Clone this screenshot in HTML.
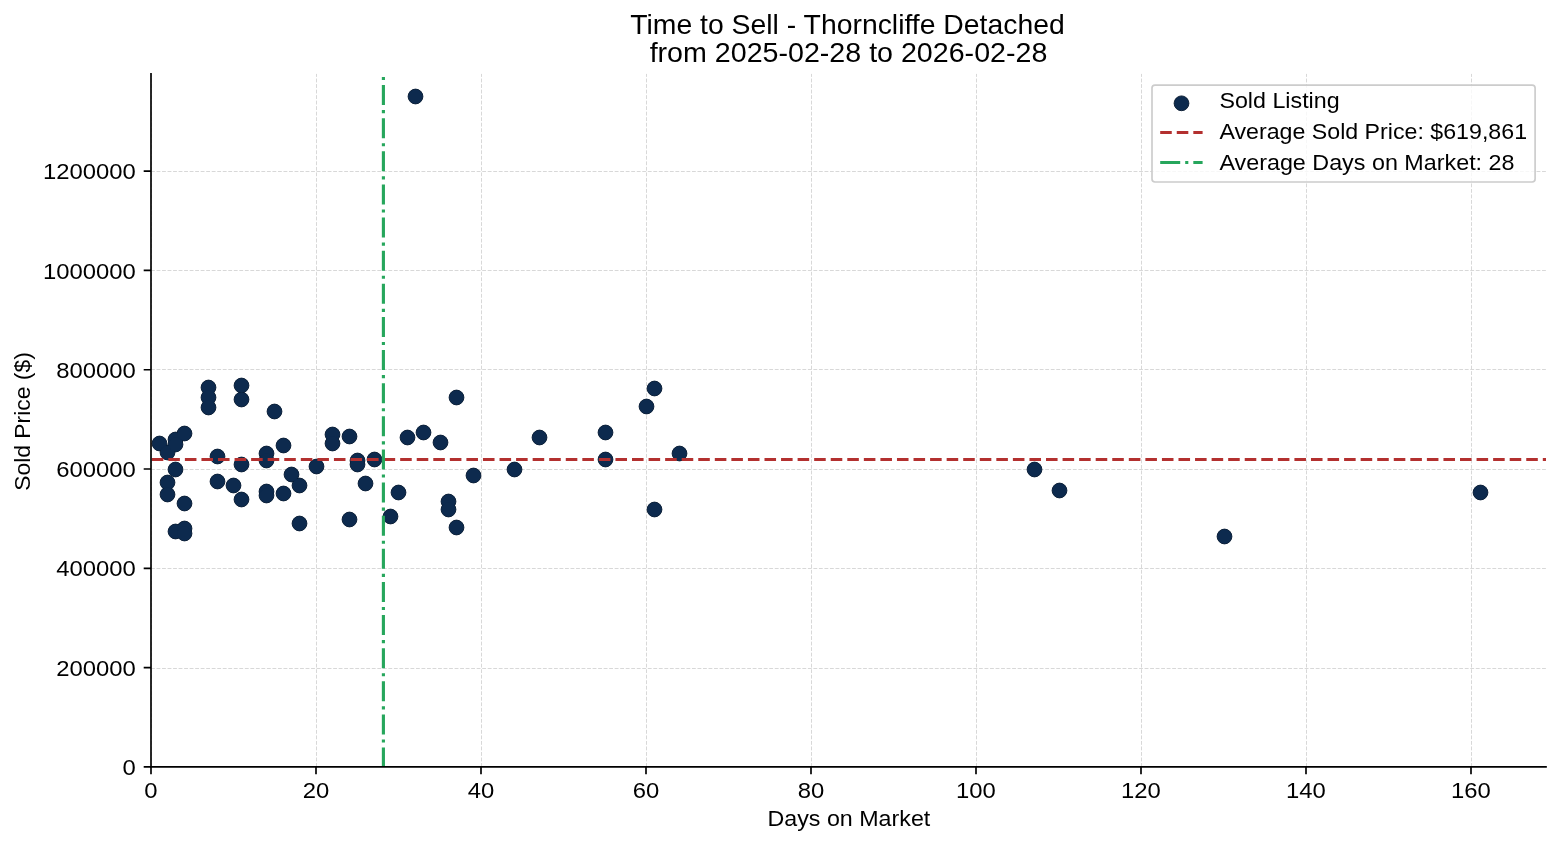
<!DOCTYPE html><html><head><meta charset="utf-8"><style>html,body{margin:0;padding:0;background:#fff;}svg{display:block;will-change:transform;}text{font-family:"Liberation Sans",sans-serif;fill:#000;}</style></head><body>
<svg width="1560" height="845" viewBox="0 0 1560 845">
<rect width="1560" height="845" fill="#fff"/>
<path d="M151.50 766.90V73.90M316.50 766.90V73.90M481.50 766.90V73.90M646.50 766.90V73.90M811.50 766.90V73.90M976.50 766.90V73.90M1141.50 766.90V73.90M1306.50 766.90V73.90M1471.50 766.90V73.90M151.00 766.50H1546.00M151.00 668.50H1546.00M151.00 568.50H1546.00M151.00 469.50H1546.00M151.00 369.50H1546.00M151.00 270.50H1546.00M151.00 171.50H1546.00" stroke="#d8d8d8" stroke-width="1" stroke-dasharray="3.85 1.67" fill="none"/>
<g fill="#0d2a4e" stroke="#07182e" stroke-width="0.9"><circle cx="159.50" cy="443.50" r="7.40"/><circle cx="167.50" cy="452.50" r="7.40"/><circle cx="167.50" cy="482.50" r="7.40"/><circle cx="167.50" cy="494.50" r="7.40"/><circle cx="175.50" cy="439.50" r="7.40"/><circle cx="175.50" cy="444.50" r="7.40"/><circle cx="175.50" cy="469.50" r="7.40"/><circle cx="175.50" cy="531.50" r="7.40"/><circle cx="184.50" cy="433.50" r="7.40"/><circle cx="184.50" cy="503.50" r="7.40"/><circle cx="184.50" cy="528.50" r="7.40"/><circle cx="184.50" cy="533.50" r="7.40"/><circle cx="208.50" cy="387.50" r="7.40"/><circle cx="208.50" cy="397.50" r="7.40"/><circle cx="208.50" cy="407.50" r="7.40"/><circle cx="217.50" cy="456.50" r="7.40"/><circle cx="217.50" cy="481.50" r="7.40"/><circle cx="233.50" cy="485.50" r="7.40"/><circle cx="241.50" cy="385.50" r="7.40"/><circle cx="241.50" cy="399.50" r="7.40"/><circle cx="241.50" cy="464.50" r="7.40"/><circle cx="241.50" cy="499.50" r="7.40"/><circle cx="266.50" cy="453.50" r="7.40"/><circle cx="266.50" cy="460.50" r="7.40"/><circle cx="266.50" cy="491.50" r="7.40"/><circle cx="266.50" cy="495.50" r="7.40"/><circle cx="274.50" cy="411.50" r="7.40"/><circle cx="283.50" cy="445.50" r="7.40"/><circle cx="283.50" cy="493.50" r="7.40"/><circle cx="291.50" cy="474.50" r="7.40"/><circle cx="299.50" cy="485.50" r="7.40"/><circle cx="299.50" cy="523.50" r="7.40"/><circle cx="316.50" cy="466.50" r="7.40"/><circle cx="332.50" cy="434.50" r="7.40"/><circle cx="332.50" cy="443.50" r="7.40"/><circle cx="349.50" cy="436.50" r="7.40"/><circle cx="349.50" cy="519.50" r="7.40"/><circle cx="357.50" cy="460.50" r="7.40"/><circle cx="357.50" cy="464.50" r="7.40"/><circle cx="365.50" cy="483.50" r="7.40"/><circle cx="374.50" cy="459.50" r="7.40"/><circle cx="390.50" cy="516.50" r="7.40"/><circle cx="398.50" cy="492.50" r="7.40"/><circle cx="407.50" cy="437.50" r="7.40"/><circle cx="415.50" cy="96.50" r="7.40"/><circle cx="423.50" cy="432.50" r="7.40"/><circle cx="440.50" cy="442.50" r="7.40"/><circle cx="448.50" cy="501.50" r="7.40"/><circle cx="448.50" cy="509.50" r="7.40"/><circle cx="456.50" cy="397.50" r="7.40"/><circle cx="456.50" cy="527.50" r="7.40"/><circle cx="473.50" cy="475.50" r="7.40"/><circle cx="514.50" cy="469.50" r="7.40"/><circle cx="539.50" cy="437.50" r="7.40"/><circle cx="605.50" cy="432.50" r="7.40"/><circle cx="605.50" cy="459.50" r="7.40"/><circle cx="646.50" cy="406.50" r="7.40"/><circle cx="654.50" cy="388.50" r="7.40"/><circle cx="654.50" cy="509.50" r="7.40"/><circle cx="679.50" cy="453.50" r="7.40"/><circle cx="1034.50" cy="469.50" r="7.40"/><circle cx="1059.50" cy="490.50" r="7.40"/><circle cx="1224.50" cy="536.50" r="7.40"/><circle cx="1480.50" cy="492.50" r="7.40"/></g>
<g fill="#0d2a4e"><circle cx="159.50" cy="443.50" r="6.95"/><circle cx="167.50" cy="452.50" r="6.95"/><circle cx="167.50" cy="482.50" r="6.95"/><circle cx="167.50" cy="494.50" r="6.95"/><circle cx="175.50" cy="439.50" r="6.95"/><circle cx="175.50" cy="444.50" r="6.95"/><circle cx="175.50" cy="469.50" r="6.95"/><circle cx="175.50" cy="531.50" r="6.95"/><circle cx="184.50" cy="433.50" r="6.95"/><circle cx="184.50" cy="503.50" r="6.95"/><circle cx="184.50" cy="528.50" r="6.95"/><circle cx="184.50" cy="533.50" r="6.95"/><circle cx="208.50" cy="387.50" r="6.95"/><circle cx="208.50" cy="397.50" r="6.95"/><circle cx="208.50" cy="407.50" r="6.95"/><circle cx="217.50" cy="456.50" r="6.95"/><circle cx="217.50" cy="481.50" r="6.95"/><circle cx="233.50" cy="485.50" r="6.95"/><circle cx="241.50" cy="385.50" r="6.95"/><circle cx="241.50" cy="399.50" r="6.95"/><circle cx="241.50" cy="464.50" r="6.95"/><circle cx="241.50" cy="499.50" r="6.95"/><circle cx="266.50" cy="453.50" r="6.95"/><circle cx="266.50" cy="460.50" r="6.95"/><circle cx="266.50" cy="491.50" r="6.95"/><circle cx="266.50" cy="495.50" r="6.95"/><circle cx="274.50" cy="411.50" r="6.95"/><circle cx="283.50" cy="445.50" r="6.95"/><circle cx="283.50" cy="493.50" r="6.95"/><circle cx="291.50" cy="474.50" r="6.95"/><circle cx="299.50" cy="485.50" r="6.95"/><circle cx="299.50" cy="523.50" r="6.95"/><circle cx="316.50" cy="466.50" r="6.95"/><circle cx="332.50" cy="434.50" r="6.95"/><circle cx="332.50" cy="443.50" r="6.95"/><circle cx="349.50" cy="436.50" r="6.95"/><circle cx="349.50" cy="519.50" r="6.95"/><circle cx="357.50" cy="460.50" r="6.95"/><circle cx="357.50" cy="464.50" r="6.95"/><circle cx="365.50" cy="483.50" r="6.95"/><circle cx="374.50" cy="459.50" r="6.95"/><circle cx="390.50" cy="516.50" r="6.95"/><circle cx="398.50" cy="492.50" r="6.95"/><circle cx="407.50" cy="437.50" r="6.95"/><circle cx="415.50" cy="96.50" r="6.95"/><circle cx="423.50" cy="432.50" r="6.95"/><circle cx="440.50" cy="442.50" r="6.95"/><circle cx="448.50" cy="501.50" r="6.95"/><circle cx="448.50" cy="509.50" r="6.95"/><circle cx="456.50" cy="397.50" r="6.95"/><circle cx="456.50" cy="527.50" r="6.95"/><circle cx="473.50" cy="475.50" r="6.95"/><circle cx="514.50" cy="469.50" r="6.95"/><circle cx="539.50" cy="437.50" r="6.95"/><circle cx="605.50" cy="432.50" r="6.95"/><circle cx="605.50" cy="459.50" r="6.95"/><circle cx="646.50" cy="406.50" r="6.95"/><circle cx="654.50" cy="388.50" r="6.95"/><circle cx="654.50" cy="509.50" r="6.95"/><circle cx="679.50" cy="453.50" r="6.95"/><circle cx="1034.50" cy="469.50" r="6.95"/><circle cx="1059.50" cy="490.50" r="6.95"/><circle cx="1224.50" cy="536.50" r="6.95"/><circle cx="1480.50" cy="492.50" r="6.95"/></g>
<path d="M151.00 459.50H1546.00" stroke="#b3302f" stroke-width="3.125" stroke-dasharray="11.56 5" stroke-dashoffset="-0.77" fill="none"/>
<path d="M383.40 766.90V73.90" stroke="#26a65c" stroke-width="3.125" stroke-dasharray="20 5 3.125 5" stroke-dashoffset="0.7" fill="none"/>
<path d="M151.00 73.90V766.90M151.00 766.90H1546.00" stroke="#000" stroke-width="1.67" fill="none" stroke-linecap="square"/>
<path d="M151.00 766.90v7.3M316.00 766.90v7.3M481.00 766.90v7.3M646.00 766.90v7.3M811.00 766.90v7.3M976.00 766.90v7.3M1141.00 766.90v7.3M1306.00 766.90v7.3M1471.00 766.90v7.3M151.00 766.90h-7.3M151.00 667.61h-7.3M151.00 568.32h-7.3M151.00 469.02h-7.3M151.00 369.73h-7.3M151.00 270.44h-7.3M151.00 171.15h-7.3" stroke="#000" stroke-width="1.67" fill="none"/>
<text x="151.00" y="798.00" font-size="22.9" text-anchor="middle" textLength="13.26" lengthAdjust="spacingAndGlyphs">0</text>
<text x="316.00" y="798.00" font-size="22.9" text-anchor="middle" textLength="26.52" lengthAdjust="spacingAndGlyphs">20</text>
<text x="481.00" y="798.00" font-size="22.9" text-anchor="middle" textLength="26.52" lengthAdjust="spacingAndGlyphs">40</text>
<text x="646.00" y="798.00" font-size="22.9" text-anchor="middle" textLength="26.52" lengthAdjust="spacingAndGlyphs">60</text>
<text x="811.00" y="798.00" font-size="22.9" text-anchor="middle" textLength="26.52" lengthAdjust="spacingAndGlyphs">80</text>
<text x="976.00" y="798.00" font-size="22.9" text-anchor="middle" textLength="39.78" lengthAdjust="spacingAndGlyphs">100</text>
<text x="1141.00" y="798.00" font-size="22.9" text-anchor="middle" textLength="39.78" lengthAdjust="spacingAndGlyphs">120</text>
<text x="1306.00" y="798.00" font-size="22.9" text-anchor="middle" textLength="39.78" lengthAdjust="spacingAndGlyphs">140</text>
<text x="1471.00" y="798.00" font-size="22.9" text-anchor="middle" textLength="39.78" lengthAdjust="spacingAndGlyphs">160</text>
<text x="135.80" y="775.05" font-size="22.9" text-anchor="end" textLength="13.26" lengthAdjust="spacingAndGlyphs">0</text>
<text x="135.80" y="675.76" font-size="22.9" text-anchor="end" textLength="79.56" lengthAdjust="spacingAndGlyphs">200000</text>
<text x="135.80" y="576.47" font-size="22.9" text-anchor="end" textLength="79.56" lengthAdjust="spacingAndGlyphs">400000</text>
<text x="135.80" y="477.17" font-size="22.9" text-anchor="end" textLength="79.56" lengthAdjust="spacingAndGlyphs">600000</text>
<text x="135.80" y="377.88" font-size="22.9" text-anchor="end" textLength="79.56" lengthAdjust="spacingAndGlyphs">800000</text>
<text x="135.80" y="278.59" font-size="22.9" text-anchor="end" textLength="92.82" lengthAdjust="spacingAndGlyphs">1000000</text>
<text x="135.80" y="179.30" font-size="22.9" text-anchor="end" textLength="92.82" lengthAdjust="spacingAndGlyphs">1200000</text>
<text x="848.90" y="825.80" font-size="22.9" text-anchor="middle" textLength="162.80" lengthAdjust="spacingAndGlyphs">Days on Market</text>
<text transform="translate(29.9 421.5) rotate(-90)" x="0" y="0" font-size="22.9" text-anchor="middle" textLength="138.56" lengthAdjust="spacingAndGlyphs">Sold Price ($)</text>
<text x="847.50" y="33.75" font-size="27.2" text-anchor="middle" textLength="434.60" lengthAdjust="spacingAndGlyphs">Time to Sell - Thorncliffe Detached</text>
<text x="848.50" y="61.80" font-size="27.2" text-anchor="middle" textLength="397.70" lengthAdjust="spacingAndGlyphs">from 2025-02-28 to 2026-02-28</text>
<rect x="1152.0" y="85.1" width="383.1" height="96.9" rx="3" ry="3" fill="#fff" fill-opacity="0.8" stroke="#cccccc" stroke-width="1.67"/>
<circle cx="1181.5" cy="103.3" r="7.40" fill="#0d2a4e" stroke="#07182e" stroke-width="0.9"/>
<path d="M1160.2 132.5H1202.6" stroke="#b3302f" stroke-width="3.125" stroke-dasharray="11.56 5" fill="none"/>
<path d="M1160.2 162.5H1202.6" stroke="#26a65c" stroke-width="3.125" stroke-dasharray="20 5 3.125 5" fill="none"/>
<text x="1219.40" y="108.35" font-size="22.9" textLength="120.24" lengthAdjust="spacingAndGlyphs">Sold Listing</text>
<text x="1219.40" y="138.80" font-size="22.9" textLength="307.66" lengthAdjust="spacingAndGlyphs">Average Sold Price: $619,861</text>
<text x="1219.40" y="169.55" font-size="22.9" textLength="295.13" lengthAdjust="spacingAndGlyphs">Average Days on Market: 28</text>
</svg></body></html>
